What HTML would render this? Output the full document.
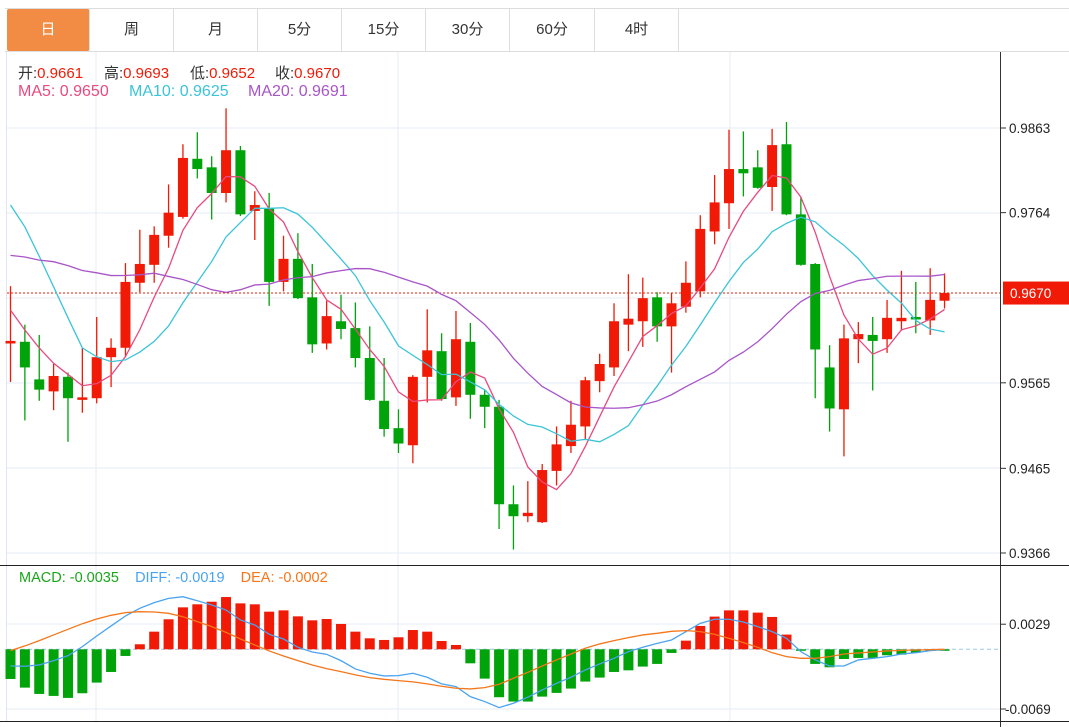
<!DOCTYPE html>
<html><head><meta charset="utf-8">
<style>
body{margin:0;background:#fff;font-family:"Liberation Sans","Noto Sans CJK SC",sans-serif;}
#wrap{position:relative;width:1069px;height:727px;overflow:hidden;background:#fff;}
.tab{position:absolute;top:9px;height:42px;line-height:42px;text-align:center;font-size:15px;color:#333;border-right:1px solid #ddd;box-sizing:border-box;cursor:pointer;}
.hd{position:absolute;font-size:14.5px;white-space:nowrap;}
</style></head><body>
<div id="wrap">
<div style="position:absolute;left:5px;top:8px;width:1064px;height:1px;background:#ddd"></div>
<div style="position:absolute;left:5px;top:51px;width:1064px;height:1px;background:#ddd"></div>
<div class="tab" style="left:7px;width:83px;background:#f28c44;color:#fff;border-radius:2px">日</div>
<div class="tab" style="left:90px;width:84px">周</div>
<div class="tab" style="left:174px;width:84px">月</div>
<div class="tab" style="left:258px;width:84px">5分</div>
<div class="tab" style="left:342px;width:84px">15分</div>
<div class="tab" style="left:426px;width:84px">30分</div>
<div class="tab" style="left:510px;width:85px">60分</div>
<div class="tab" style="left:595px;width:84px">4时</div>
<svg id="svg" width="1069" height="727" style="position:absolute;left:0;top:0"></svg>
<div class="hd" style="left:18px;top:62px;color:#333;font-size:15px">开:<span style="color:#f01a06">0.9661</span></div>
<div class="hd" style="left:104px;top:62px;color:#333;font-size:15px">高:<span style="color:#f01a06">0.9693</span></div>
<div class="hd" style="left:190px;top:62px;color:#333;font-size:15px">低:<span style="color:#f01a06">0.9652</span></div>
<div class="hd" style="left:275px;top:62px;color:#333;font-size:15px">收:<span style="color:#f01a06">0.9670</span></div>
<div class="hd" style="left:18px;top:83px;color:#e84a7f;font-size:16px">MA5: 0.9650</div>
<div class="hd" style="left:129px;top:83px;color:#3bc4d8;font-size:16px">MA10: 0.9625</div>
<div class="hd" style="left:248px;top:83px;color:#a855c8;font-size:16px">MA20: 0.9691</div>
<div class="hd" style="left:19px;top:570px"><span style="color:#1aa61a">MACD: -0.0035</span>&nbsp;&nbsp;&nbsp;&nbsp;<span style="color:#4aa3f0">DIFF: -0.0019</span>&nbsp;&nbsp;&nbsp;&nbsp;<span style="color:#f5761a">DEA: -0.0002</span></div>
</div>
<script>
const priorCloses=[0.962,0.963,0.961,0.964,0.966,0.965,0.967,0.968,0.969,0.970,0.984,0.990,0.993,0.991,0.990,0.9699,0.9662,0.9663,0.9612];
const opens=[0.9611,0.9613,0.9569,0.9555,0.9572,0.9546,0.9547,0.9595,0.9606,0.9682,0.9703,0.9737,0.9759,0.9827,0.9817,0.9787,0.9837,0.9766,0.9769,0.9683,0.9710,0.9665,0.9611,0.9637,0.9629,0.9594,0.9544,0.9512,0.9492,0.9572,0.9602,0.9548,0.9613,0.9551,0.9537,0.9423,0.9409,0.9402,0.9462,0.9491,0.9514,0.9567,0.9583,0.9633,0.9637,0.9665,0.9631,0.9654,0.9672,0.9742,0.9775,0.9815,0.9817,0.9794,0.9844,0.9762,0.9704,0.9583,0.9534,0.9616,0.9621,0.9616,0.9637,0.9642,0.9638,0.9661];
const highs=[0.9678,0.9633,0.9621,0.9587,0.9577,0.9606,0.9642,0.9617,0.9705,0.9744,0.9748,0.9797,0.9844,0.9858,0.9830,0.9886,0.9842,0.9789,0.9787,0.9737,0.9740,0.9704,0.9661,0.9668,0.9659,0.9631,0.9594,0.9534,0.9574,0.9651,0.9623,0.9649,0.9635,0.9557,0.9545,0.9445,0.9450,0.9470,0.9514,0.9544,0.9572,0.9599,0.9658,0.9692,0.9688,0.9671,0.9670,0.9707,0.9761,0.9808,0.9861,0.9859,0.9837,0.9862,0.9870,0.9782,0.9705,0.9609,0.9633,0.9636,0.9642,0.9662,0.9696,0.9683,0.9699,0.9693];
const lows=[0.9566,0.9521,0.9544,0.9533,0.9496,0.9530,0.9541,0.9560,0.9595,0.9671,0.9682,0.9723,0.9757,0.9804,0.9756,0.9776,0.9760,0.9732,0.9655,0.9672,0.9663,0.9600,0.9604,0.9616,0.9583,0.9544,0.9502,0.9483,0.9471,0.9542,0.9544,0.9538,0.9523,0.9512,0.9394,0.9370,0.9402,0.9401,0.9445,0.9483,0.9498,0.9554,0.9573,0.9602,0.9607,0.9613,0.9577,0.9647,0.9665,0.9727,0.9745,0.9783,0.9792,0.9766,0.9761,0.9702,0.9547,0.9508,0.9479,0.9588,0.9556,0.9600,0.9626,0.9623,0.9621,0.9652];
const closes=[0.9614,0.9583,0.9557,0.9573,0.9547,0.9548,0.9595,0.9606,0.9683,0.9704,0.9738,0.9764,0.9828,0.9815,0.9787,0.9837,0.9762,0.9773,0.9683,0.9710,0.9664,0.9610,0.9643,0.9628,0.9594,0.9545,0.9511,0.9494,0.9572,0.9603,0.9546,0.9616,0.9551,0.9537,0.9423,0.9409,0.9413,0.9463,0.9493,0.9516,0.9568,0.9587,0.9637,0.9640,0.9664,0.9631,0.9658,0.9682,0.9745,0.9776,0.9815,0.9810,0.9793,0.9843,0.9762,0.9703,0.9604,0.9535,0.9617,0.9622,0.9614,0.9641,0.9641,0.9640,0.9662,0.9670];
const macdHist=[-0.00343,-0.00443,-0.00516,-0.00539,-0.00562,-0.00508,-0.00385,-0.00262,-0.00077,0.00058,0.00204,0.00347,0.00485,0.0052,0.0055,0.00604,0.00531,0.0052,0.00435,0.0045,0.00381,0.00335,0.0035,0.00293,0.00204,0.00127,0.00108,0.00139,0.00223,0.00204,0.00096,0.0005,-0.00162,-0.00339,-0.00554,-0.00604,-0.00604,-0.00547,-0.00504,-0.00454,-0.00373,-0.00327,-0.00262,-0.00243,-0.002,-0.00169,-0.00042,0.001,0.0027,0.00378,0.0045,0.0045,0.00424,0.00374,0.0017,-0.00012,-0.00169,-0.00208,-0.00112,-0.001,-0.001,-0.00069,-0.00062,-0.00039,-0.00015,-0.00004];
const diffVals=[-0.00193,-0.00196,-0.00181,-0.00131,-0.00073,0.00031,0.00154,0.0027,0.00385,0.00474,0.00539,0.00589,0.00608,0.00562,0.00512,0.00454,0.00339,0.00281,0.00173,0.00119,0.00023,-0.00031,-0.00058,-0.00131,-0.00227,-0.00277,-0.00308,-0.00304,-0.00277,-0.00323,-0.004,-0.00431,-0.00547,-0.00604,-0.00674,-0.00624,-0.00554,-0.0047,-0.00393,-0.00323,-0.00239,-0.00169,-0.00104,-0.00027,0.00023,0.00069,0.00108,0.00204,0.003,0.00347,0.00347,0.00316,0.00262,0.00204,0.00127,-0.00027,-0.00123,-0.00193,-0.00193,-0.00123,-0.00104,-0.00085,-0.00054,-0.00039,-0.00015,-0.00004];
const deaVals=[-0.00015,0.00039,0.001,0.00166,0.00231,0.00296,0.0035,0.00393,0.00424,0.00435,0.00431,0.00416,0.00377,0.0032,0.00262,0.00196,0.00119,0.0005,-0.00019,-0.00077,-0.00131,-0.00181,-0.00223,-0.00258,-0.00296,-0.00327,-0.00347,-0.00362,-0.00377,-0.004,-0.00427,-0.0045,-0.00458,-0.00443,-0.00404,-0.00335,-0.00266,-0.00193,-0.00123,-0.00054,0.00012,0.00062,0.001,0.00135,0.00166,0.00185,0.00208,0.00216,0.00204,0.00173,0.00127,0.00077,0.00023,-0.00039,-0.00085,-0.00104,-0.00104,-0.00085,-0.00054,-0.00042,-0.00031,-0.00019,-0.00012,-0.00008,-0.00004,0];
const priceTicks=["0.9863","0.9764","0.9565","0.9465","0.9366"];
const macdTicks=["0.0029","-0.0069"];
const lastPrice=0.9670;

const NS="http://www.w3.org/2000/svg";
const svg=document.getElementById('svg');
function el(tag,attrs,parent){const e=document.createElementNS(NS,tag);for(const k in attrs)e.setAttribute(k,attrs[k]);(parent||svg).appendChild(e);return e;}
const X=i=>10.5+i*14.37;
const Y=p=>128+(0.9863-p)*8551;
const YM=v=>649.3-v*8650;
const UP="#f01a06",DN="#00a30a";

[128,213,298,383,468,553,624,709].forEach(y=>{const g=el('line',{x1:7,x2:1000,y1:y,y2:y,stroke:'#e6edf4','stroke-width':1});

});
[96,398,730].forEach(x=>{const g=el('line',{x1:x,x2:x,y1:52,y2:721,stroke:'#e6edf4','stroke-width':1});

});
const lb=el('line',{x1:6.5,x2:6.5,y1:52,y2:721,stroke:'#e0e6ee'});



const ax=el('line',{x1:1000.5,x2:1000.5,y1:52,y2:727,stroke:'#333'});


const sep=el('line',{x1:0,x2:1069,y1:565.5,y2:565.5,stroke:'#222'});


const bot=el('line',{x1:0,x2:1069,y1:721.5,y2:721.5,stroke:'#222'});


priceTicks.forEach(t=>{const y=Y(parseFloat(t));
el('line',{x1:1001,x2:1006,y1:y,y2:y,stroke:'#333'});
const tx=el('text',{x:1009,y:y+5,'font-size':13.5,fill:'#222','font-family':'Liberation Sans, sans-serif'});tx.textContent=t;

});
macdTicks.forEach(t=>{const y=YM(parseFloat(t));
el('line',{x1:1001,x2:1006,y1:y,y2:y,stroke:'#333'});
const tx=el('text',{x:t[0]=='-'?1005:1009,y:y+5,'font-size':13.5,fill:'#222','font-family':'Liberation Sans, sans-serif'});tx.textContent=t;

});

const ly=Y(lastPrice);
const lp=el('line',{x1:7,x2:1000,y1:ly,y2:ly,stroke:'#f01a06','stroke-dasharray':'2,2'});


const tag=el('rect',{x:1003,y:ly-11.5,width:66,height:23,fill:'#f01a06'});


const tt=el('text',{x:1010,y:ly+5,'font-size':13.5,fill:'#fff','font-family':'Liberation Sans, sans-serif'});tt.textContent=lastPrice.toFixed(4);



closes.forEach((c,i)=>{const o=opens[i],up=c>=o,col=up?UP:DN,x=X(i);
const g=el('g',{});


el('line',{x1:x,x2:x,y1:Y(highs[i]),y2:Y(lows[i]),stroke:col,'stroke-width':1.3},g);
const t=Y(Math.max(o,c)),b=Y(Math.min(o,c));
el('rect',{x:x-5,y:t,width:10,height:Math.max(b-t,2.5),fill:col},g);});

const all=priorCloses.concat(closes);
function ma(n){return closes.map((_,i)=>{const k=i+priorCloses.length;let s=0;for(let j=k-n+1;j<=k;j++)s+=all[j];return s/n;});}
[[5,'#e84a7f'],[10,'#3bc4d8'],[20,'#a855c8']].forEach(([n,col])=>{const v=ma(n);
const p=el('polyline',{points:v.map((m,i)=>X(i)+','+Y(m)).join(' '),fill:'none',stroke:col,'stroke-width':1.3});

});

const z=el('line',{x1:7,x2:1000,y1:649.3,y2:649.3,stroke:'#9cc8e6','stroke-dasharray':'4,3'});


macdHist.forEach((v,i)=>{const x=X(i),y0=YM(0),y1=YM(v);
const r=el('rect',{x:x-5,y:Math.min(y0,y1),width:10,height:Math.max(Math.abs(y1-y0),1.5),fill:v>=0?UP:DN});

});
[[diffVals,'#4aa3f0','diff-line'],[deaVals,'#f5761a','dea-line']].forEach(([arr,col,nm])=>{
const p=el('polyline',{points:arr.map((v,i)=>X(i)+','+YM(v)).join(' '),fill:'none',stroke:col,'stroke-width':1.3});

});
</script>
</body></html>
